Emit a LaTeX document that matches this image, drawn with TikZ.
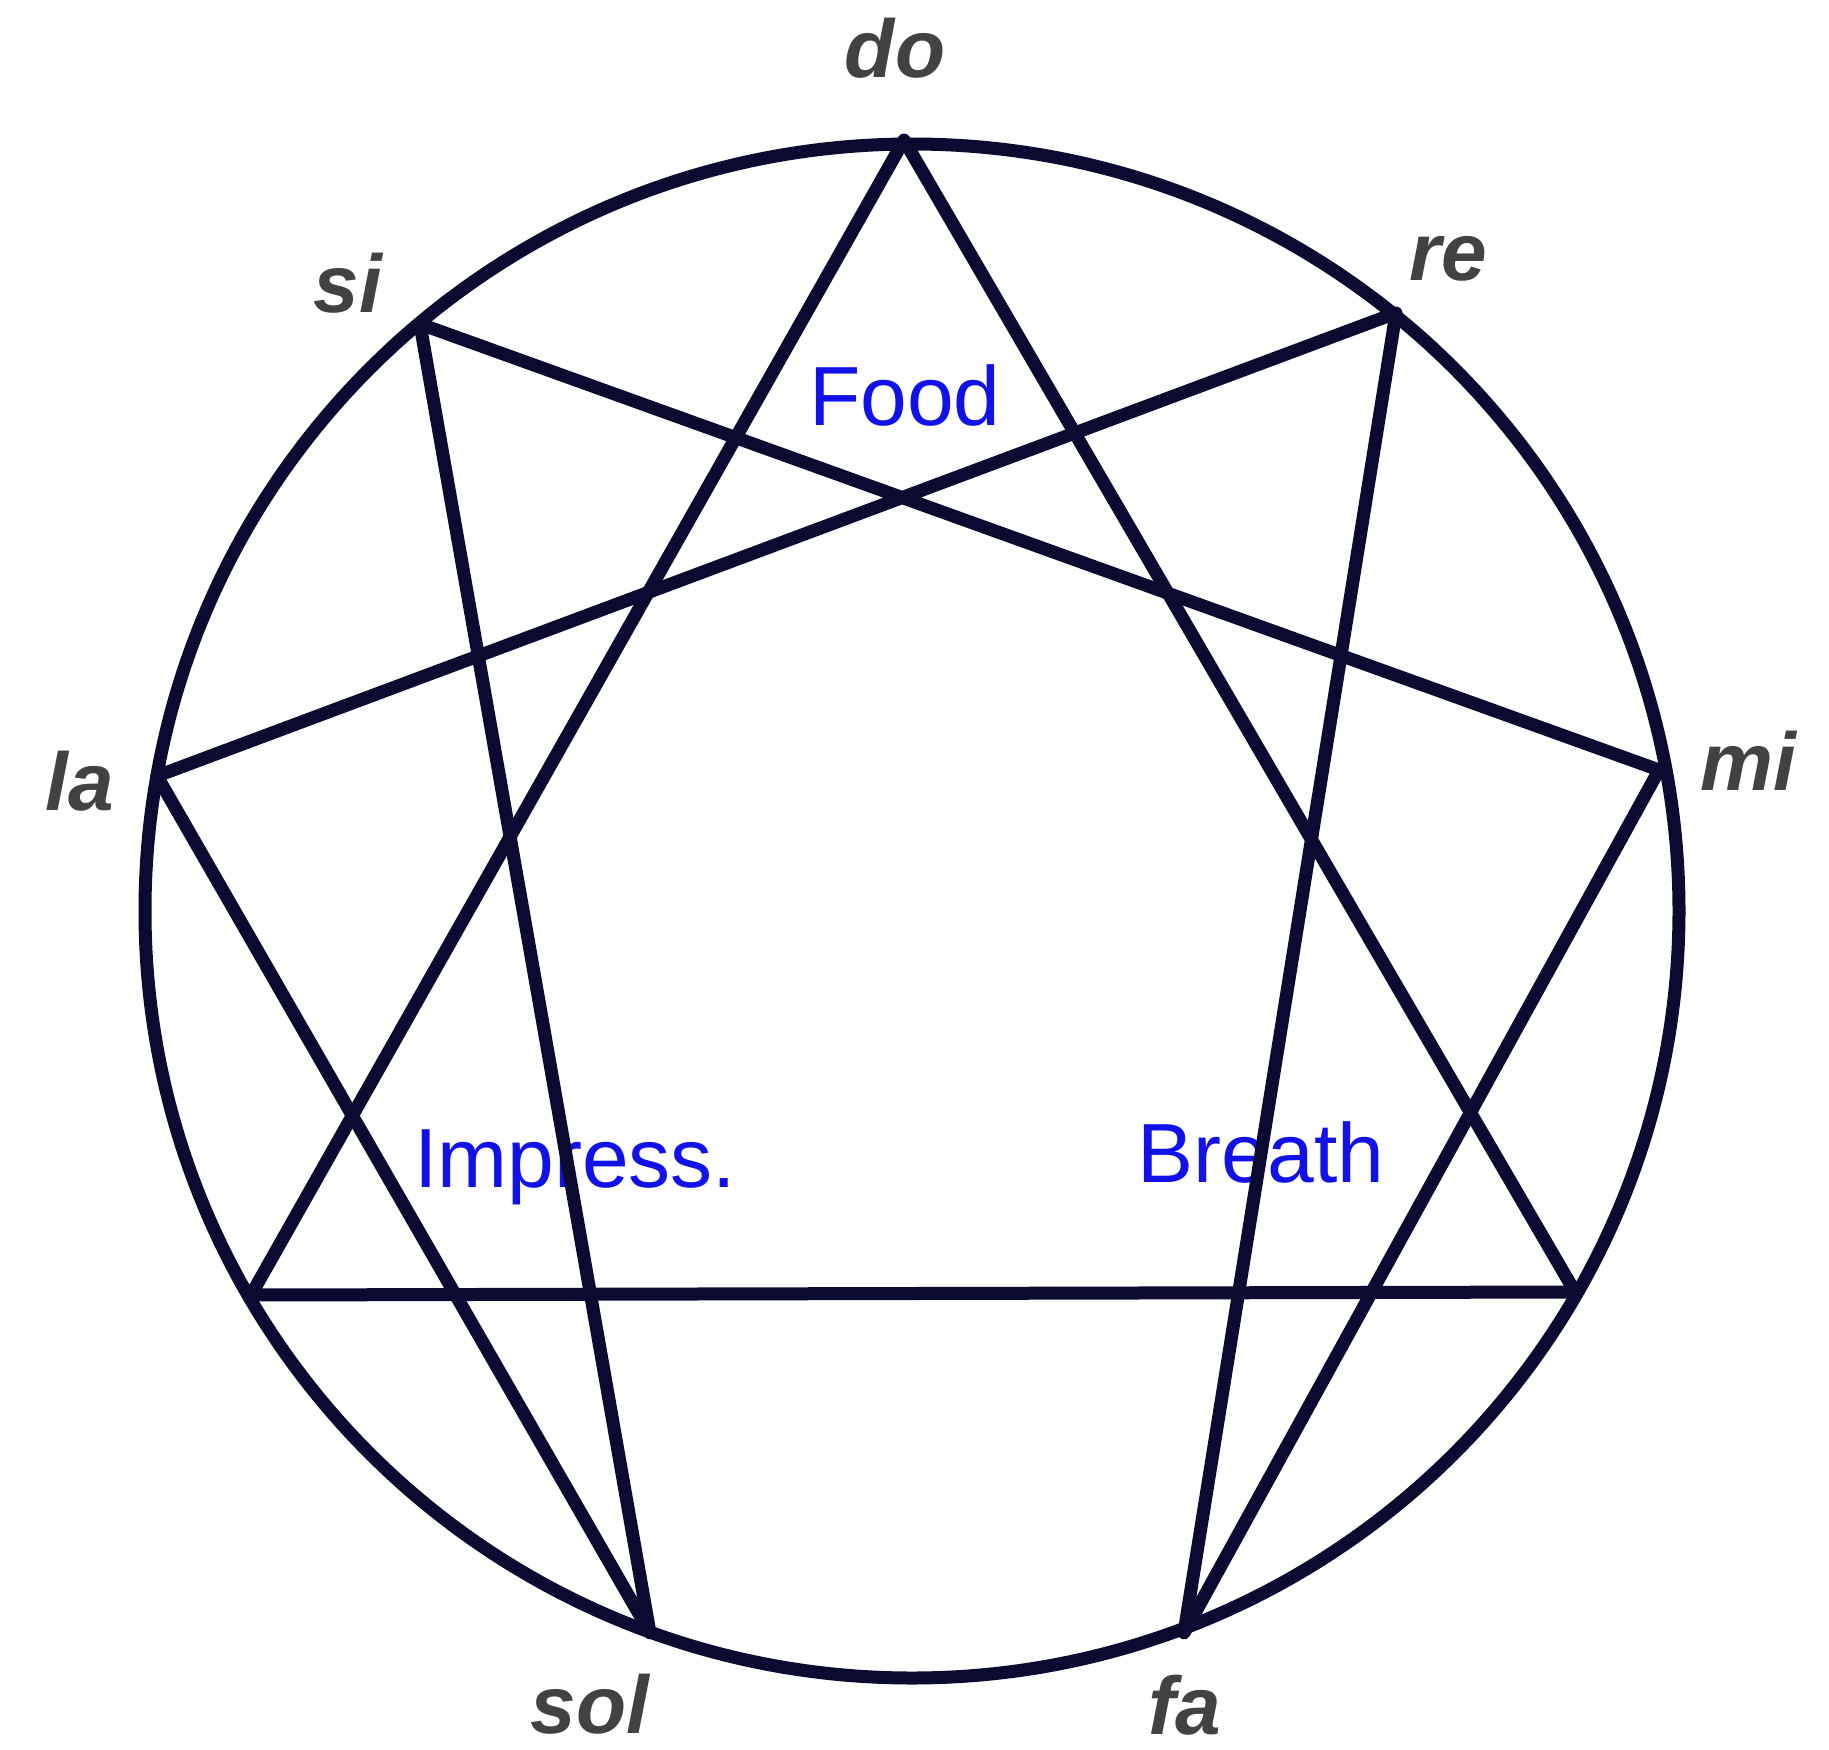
\documentclass[tikz,border=0pt]{standalone}
\usepackage{fontspec}
\setmainfont{Liberation Sans}
\definecolor{navy}{RGB}{11,11,50}
\definecolor{notegray}{RGB}{66,66,66}
\definecolor{labelblue}{RGB}{18,18,232}
\tikzset{
  note/.style={text=notegray, font=\fontsize{82}{82}\selectfont\bfseries\itshape, inner sep=0pt, anchor=base},
  blue label/.style={text=labelblue, font=\fontsize{84}{84}\selectfont, inner sep=0pt, anchor=base west},
  figline/.style={draw=navy, line width=13pt, line join=round, line cap=round}
}
\begin{document}
\begin{tikzpicture}[x=1pt,y=-1pt]
\useasboundingbox (0,0) rectangle (1829,1750);
\fill[white] (0,0) rectangle (1829,1750);
% vertices
\coordinate (do) at (904,140);
\coordinate (re) at (1396,313);
\coordinate (mi) at (1659,770);
\coordinate (p3) at (1575,1292);
\coordinate (fa) at (1184,1633);
\coordinate (sol) at (650,1633);
\coordinate (p6) at (251,1295);
\coordinate (la) at (157,776);
\coordinate (si) at (420,324);
\coordinate (c) at (912,911);
% blue labels
\node[blue label] (food) at (809,425) {Food};
\node[blue label] (impress) at (414,1187) {Impress.};
\node[blue label] (breath) at (1137,1182) {Breath};
% note labels
\node[note] (ldo) at (895,78) {do};
\node[note] (lre) at (1448,280) {re};
\node[note] (lmi) at (1748,790) {mi};
\node[note] (lfa) at (1185,1734) {fa};
\node[note] (lsol) at (590,1733) {sol};
\node[note] (lla) at (80,810) {la};
\node[note] (lsi) at (348,312) {si};
% circle
\draw[draw=navy, line width=13pt] (c) circle[radius=767];
% triangle
\draw[figline] (do) -- (p3) -- (p6) -- cycle;
% hexad
\draw[figline] (re) -- (fa) -- (mi) -- (si) -- (sol) -- (la) -- cycle;
\end{tikzpicture}
\end{document}
